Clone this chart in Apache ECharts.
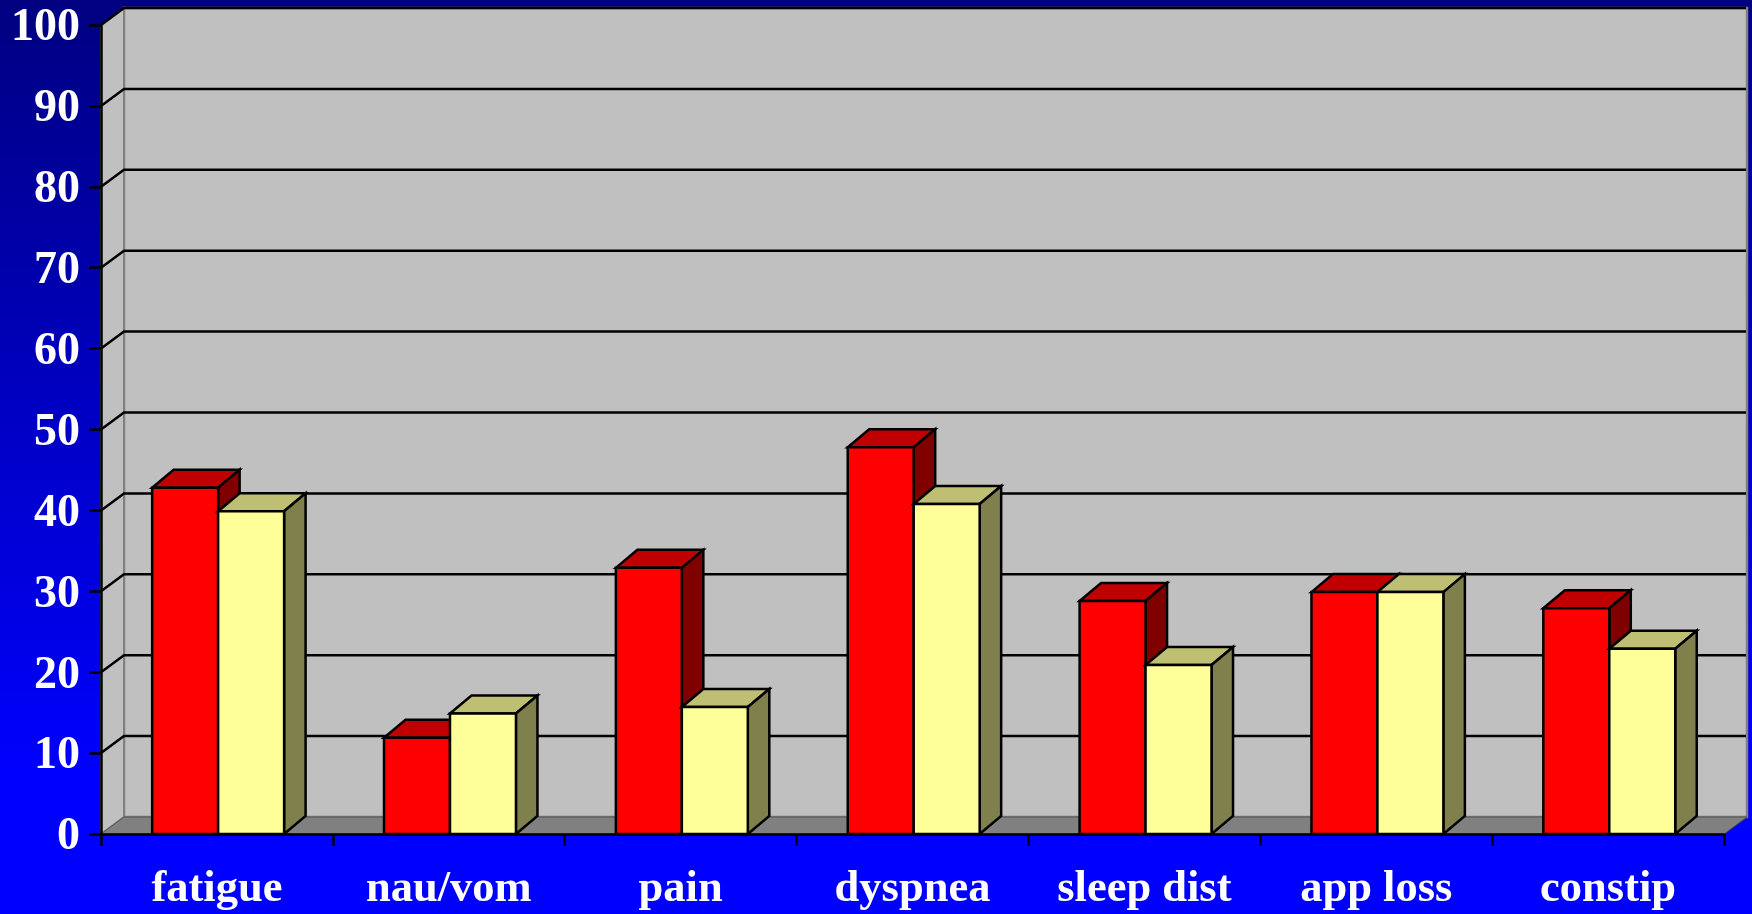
<!DOCTYPE html>
<html>
<head>
<meta charset="utf-8">
<style>html,body{margin:0;padding:0;background:#000080}#chart{width:1752px;height:914px}</style>
<script src="https://cdn.jsdelivr.net/npm/echarts@6/dist/echarts.min.js"></script>
</head>
<body>
<div id="chart"></div>
<script>
const categories = ['fatigue', 'nau/vom', 'pain', 'dyspnea', 'sleep dist', 'app loss', 'constip'];
const redValues = [42.8, 11.9, 32.9, 47.8, 28.8, 29.9, 27.9];
const yellowValues = [39.9, 14.9, 15.7, 40.8, 20.9, 29.9, 22.9];
const yTicks = [10, 20, 30, 40, 50, 60, 70, 80, 90, 100];

const DX = 23, DY = -17;
const BAR_DX = 21.5, BAR_DY = -18;
const FONT = '"Liberation Serif", "Times New Roman", serif';
const BAR_RATIO = 0.2845;
const OUT = { stroke: '#000', lineWidth: 2.5, lineJoin: 'miter' };

function poly(points, fill, stroke, lw) {
  return { type: 'polygon', shape: { points }, style: { fill, stroke: stroke || 'none', lineWidth: lw || 0 } };
}

function bar3d(side, front, top, dark) {
  return function (params, api) {
    const i = api.value(0), v = api.value(1);
    const c = api.coord([i, v]), base = api.coord([i, 0]);
    const w = api.size([1, 0])[0] * BAR_RATIO;
    const xl = c[0] + 1.2 + (side < 0 ? -w : 0);
    const xr = xl + w;
    const yt = c[1], yb = base[1];
    return {
      type: 'group',
      children: [
        { type: 'polygon', shape: { points: [[xl, yt], [xl + BAR_DX, yt + BAR_DY], [xr + BAR_DX, yt + BAR_DY], [xr, yt]] }, style: Object.assign({ fill: top }, OUT) },
        { type: 'polygon', shape: { points: [[xr, yt], [xr + BAR_DX, yt + BAR_DY], [xr + BAR_DX, yb + BAR_DY], [xr, yb]] }, style: Object.assign({ fill: dark }, OUT) },
        { type: 'polygon', shape: { points: [[xl, yt], [xr, yt], [xr, yb], [xl, yb]] }, style: Object.assign({ fill: front }, OUT) }
      ]
    };
  };
}

function plotEdges(api) {
  const band = api.size([1, 0])[0];
  const first = api.coord([0, 0]), last = api.coord([categories.length - 1, 100]);
  return { x0: first[0] - band / 2, x1: last[0] + band / 2, y0: first[1], y1: last[1] };
}

function renderWalls(params, api) {
  const { x0, x1, y0, y1 } = plotEdges(api);
  return {
    type: 'group',
    children: [
      poly([[x0 + DX, y1 + DY], [x1 + DX, y1 + DY], [x1 + DX, y0 + DY], [x0 + DX, y0 + DY]], '#C0C0C0', '#808080', 2.5),
      poly([[x0, y1], [x0 + DX, y1 + DY], [x0 + DX, y0 + DY], [x0, y0]], '#C0C0C0', '#808080', 2),
      poly([[x0, y0], [x0 + DX, y0 + DY], [x1 + DX, y0 + DY], [x1, y0]], '#808080', '#555555', 1)
    ]
  };
}

function renderGrid(params, api) {
  const v = api.value(0);
  const { x0, x1 } = plotEdges(api);
  const y = api.coord([0, v])[1];
  return {
    type: 'polyline',
    shape: { points: [[x0, y], [x0 + DX, y + DY], [x1 + DX - 1, y + DY]] },
    style: { fill: 'none', stroke: '#000', lineWidth: 2.5 }
  };
}

const chart = echarts.init(document.getElementById('chart'), null, { renderer: 'canvas' });
chart.setOption({
  animation: false,
  backgroundColor: {
    type: 'linear', x: 0, y: 0, x2: 0, y2: 1,
    colorStops: [{ offset: 0, color: '#000080' }, { offset: 0.85, color: '#0000FF' }, { offset: 1, color: '#0000FF' }]
  },
  grid: { left: 101, right: 28, top: 25, bottom: 80, containLabel: false },
  xAxis: {
    type: 'category', data: categories, z: 5,
    axisLine: { show: true, lineStyle: { color: '#000', width: 2.5 } },
    axisTick: { show: true, length: 12, interval: 0, lineStyle: { color: '#000', width: 2.5 } },
    axisLabel: { interval: 0, margin: 33, color: '#fff', fontFamily: FONT, fontWeight: 'bold', fontSize: 44.5 },
    splitLine: { show: false }
  },
  yAxis: {
    type: 'value', min: 0, max: 100, interval: 10, z: 5,
    axisLine: { show: true, lineStyle: { color: '#000', width: 2.5 } },
    axisTick: { show: true, length: 12, lineStyle: { color: '#000', width: 2.5 } },
    axisLabel: {
      margin: 21, color: '#fff', fontFamily: FONT, fontWeight: 'bold', fontSize: 46,
      formatter: '{t|{value}}',
      rich: { t: { color: '#fff', fontFamily: FONT, fontWeight: 'bold', fontSize: 46, padding: [7, 0, 0, 0] } }
    },
    splitLine: { show: false }
  },
  series: [
    { type: 'custom', name: 'walls', z: 1, silent: true, renderItem: renderWalls, data: [[0, 0]], encode: { x: 0, y: 1 } },
    { type: 'custom', name: 'grid', z: 1.5, silent: true, renderItem: renderGrid, data: yTicks.map(v => [v]), encode: { y: 0 } },
    { type: 'custom', name: 'red', z: 2, renderItem: bar3d(-1, '#FF0000', '#C00000', '#800000'), data: redValues.map((v, i) => [i, v]), encode: { x: 0, y: 1 } },
    { type: 'custom', name: 'yellow', z: 3, renderItem: bar3d(1, '#FFFF99', '#BFBF73', '#80804D'), data: yellowValues.map((v, i) => [i, v]), encode: { x: 0, y: 1 } }
  ]
});
</script>
</body>
</html>
